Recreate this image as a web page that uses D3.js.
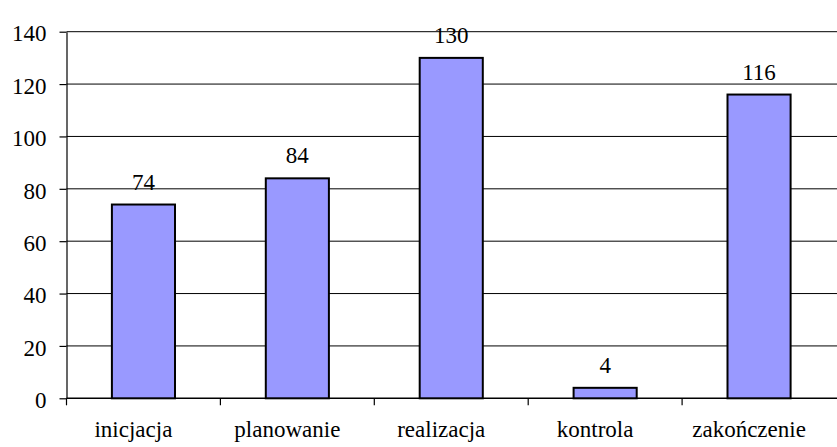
<!DOCTYPE html>
<html>
<head>
<meta charset="utf-8">
<script src="https://cdn.jsdelivr.net/npm/d3@7"></script>
<style>
  html, body { margin: 0; padding: 0; background: #fff; }
  svg { display: block; }
</style>
</head>
<body>
<svg id="chart" width="837" height="447"></svg>
<script>
// Project phases and the number of items in each
const categories = ["inicjacja", "planowanie", "realizacja", "kontrola", "zakończenie"];
const values = [74, 84, 130, 4, 116];
const yTicks = [0, 20, 40, 60, 80, 100, 120, 140];

const W = 837;
const plot = { left: 66.5, right: 836, top: 31.7, bottom: 398.3 };
const FONT = "'Liberation Serif', 'Times New Roman', Times, serif";

const svg = d3.select("#chart");

const x = d3.scaleBand()
  .domain(categories)
  .range([plot.left, plot.right])
  .paddingInner(0.59)
  .paddingOuter(0.295);

const y = d3.scaleLinear()
  .domain([0, 140])
  .range([plot.bottom, plot.top]);

// horizontal gridlines
svg.append("g")
  .selectAll("line")
  .data(yTicks.filter(d => d > 0))
  .join("line")
  .attr("x1", plot.left)
  .attr("x2", W)
  .attr("y1", d => y(d))
  .attr("y2", d => y(d))
  .attr("stroke", "#000")
  .attr("stroke-width", 1);

// y axis
const yAxis = svg.append("g")
  .attr("transform", `translate(${plot.left},0)`)
  .call(d3.axisLeft(y).tickValues(yTicks).tickSize(7).tickSizeOuter(0).tickPadding(13));
yAxis.attr("font-family", null).attr("font-size", null);
yAxis.select(".domain").attr("stroke", "#000").attr("stroke-width", 1.2);
yAxis.selectAll(".tick line").attr("stroke", "#000").attr("stroke-width", 1.2);
yAxis.selectAll(".tick text")
  .style("font-family", FONT)
  .style("font-size", "23px")
  .attr("dy", "0.4em")
  .attr("fill", "#000");

// x axis line and category boundary ticks
svg.append("line")
  .attr("x1", plot.left).attr("x2", W)
  .attr("y1", y(0)).attr("y2", y(0))
  .attr("stroke", "#000").attr("stroke-width", 1.5);

const half = (x.step() - x.bandwidth()) / 2;
svg.append("g")
  .selectAll("line")
  .data(categories)
  .join("line")
  .attr("x1", d => x(d) - half)
  .attr("x2", d => x(d) - half)
  .attr("y1", y(0))
  .attr("y2", y(0) + 7)
  .attr("stroke", "#000")
  .attr("stroke-width", 1.2);

// bars
svg.append("g")
  .selectAll("rect")
  .data(categories)
  .join("rect")
  .attr("x", d => x(d))
  .attr("width", x.bandwidth())
  .attr("y", (d, i) => y(values[i]))
  .attr("height", (d, i) => y(0) - y(values[i]))
  .attr("fill", "#9999ff")
  .attr("stroke", "#000")
  .attr("stroke-width", 2);

// value labels above bars
svg.append("g")
  .selectAll("text")
  .data(categories)
  .join("text")
  .attr("x", d => x(d) + x.bandwidth() / 2)
  .attr("y", (d, i) => y(values[i]) - 15)
  .attr("text-anchor", "middle")
  .style("font-family", FONT)
  .style("font-size", "23px")
  .attr("fill", "#000")
  .text((d, i) => values[i]);

// category labels
svg.append("g")
  .selectAll("text")
  .data(categories)
  .join("text")
  .attr("x", d => x(d) + x.bandwidth() / 2 - 10)
  .attr("y", 437)
  .attr("text-anchor", "middle")
  .style("font-family", FONT)
  .style("font-size", "23px")
  .attr("fill", "#000")
  .text(d => d);
</script>
</body>
</html>
